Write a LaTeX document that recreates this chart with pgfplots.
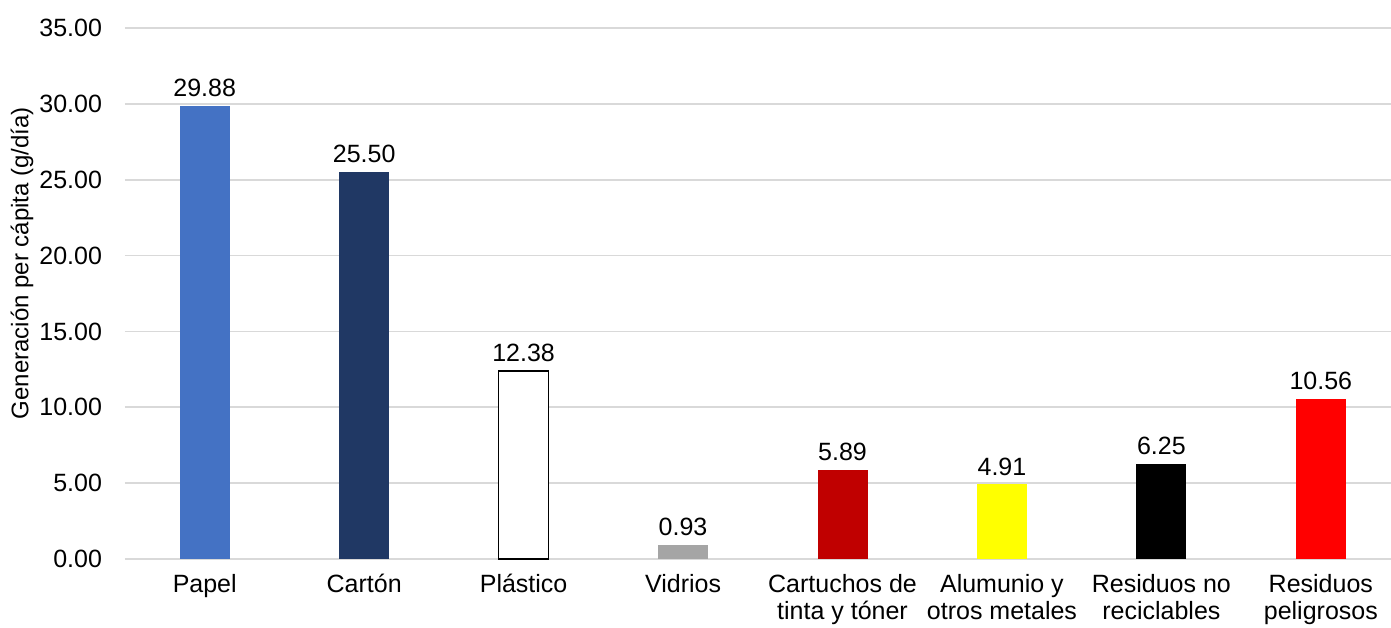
\documentclass[border=0pt]{standalone}
\usepackage{pgfplots}
\pgfplotsset{compat=1.18}
\usepackage{fontspec}
\setmainfont{Liberation Sans}
\definecolor{gridgray}{HTML}{D9D9D9}
\definecolor{cPapel}{HTML}{4472C4}
\definecolor{cCarton}{HTML}{203864}
\definecolor{cVidrio}{HTML}{A5A5A5}
\definecolor{cCart}{HTML}{C00000}
\definecolor{cAlu}{HTML}{FFFF00}
\definecolor{cPel}{HTML}{FF0000}
\begin{document}
\begin{tikzpicture}
\begin{axis}[
  scale only axis,
  width=633pt, height=265.5pt,
  ybar, bar width=25pt, bar shift=0pt,
  xmin=-0.5, xmax=7.44,
  ymin=0, ymax=35,
  ytick={0,5,...,35},
  xtick={0,...,7},
  xticklabels={Papel,Cartón,Plástico,Vidrios,{Cartuchos de\\tinta y tóner},{Alumunio y\\otros metales},{Residuos no\\reciclables},{Residuos\\peligrosos}},
  x tick label style={align=center, font=\fontsize{12.5}{13.5}\selectfont, yshift=-4pt},
  y tick label style={font=\fontsize{12.5}{14}\selectfont, xshift=-8pt},
  yticklabel={\pgfmathprintnumber[fixed,fixed zerofill,precision=2,assume math mode=true]{\tick}},
  major tick length=0pt,
  ymajorgrids, grid style={gridgray, line width=0.8pt},
  axis x line*=bottom, axis y line*=left,
  x axis line style={gridgray, line width=0.8pt, -},
  y axis line style={draw=none},
  ylabel={Generación per cápita (g/día)},
  ylabel style={font=\fontsize{12}{14}\selectfont, at={(axis description cs:0,0.557)}, anchor=center, yshift=51.5pt},
  nodes near coords={\pgfmathprintnumber[fixed,fixed zerofill,precision=2,assume math mode=true]{\pgfplotspointmeta}},
  nodes near coords style={font=\fontsize{12.5}{14}\selectfont, yshift=1pt, text=black},
  clip=false,
]
\addplot[fill=cPapel, draw=none] coordinates {(0,29.88)};
\addplot[fill=cCarton, draw=none] coordinates {(1,25.50)};
\addplot[fill=white, draw=black, line width=0.8pt] coordinates {(2,12.38)};
\addplot[fill=cVidrio, draw=none] coordinates {(3,0.93)};
\addplot[fill=cCart, draw=none] coordinates {(4,5.89)};
\addplot[fill=cAlu, draw=none] coordinates {(5,4.91)};
\addplot[fill=black, draw=none] coordinates {(6,6.25)};
\addplot[fill=cPel, draw=none] coordinates {(7,10.56)};
\end{axis}
\pgfresetboundingbox
\path[use as bounding box] ([xshift=-62.5pt,yshift=-34.5pt]current axis.south west) rectangle ([yshift=14pt]current axis.north east);
\end{tikzpicture}
\end{document}
